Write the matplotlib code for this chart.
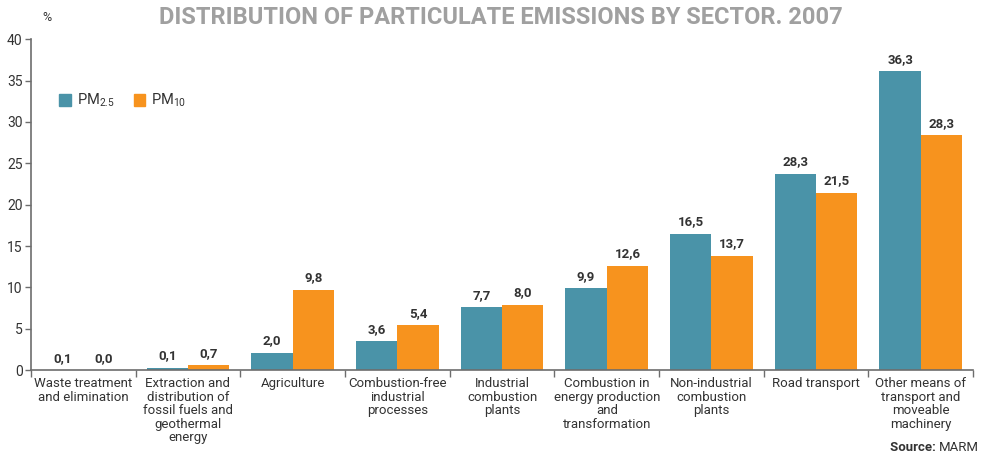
import numpy as np
import matplotlib
matplotlib.use("Agg")
import matplotlib.pyplot as plt
from matplotlib.patches import Patch

plt.rcParams['font.family'] = ['Roboto', 'DejaVu Sans']
plt.rcParams['mathtext.default'] = 'regular'

# data
sectors = [
    "Waste treatment\nand elimination",
    "Extraction and\ndistribution of\nfossil fuels and\ngeothermal\nenergy",
    "Agriculture",
    "Combustion-free\nindustrial\nprocesses",
    "Industrial\ncombustion\nplants",
    "Combustion in\nenergy production\nand\ntransformation",
    "Non-industrial\ncombustion\nplants",
    "Road transport",
    "Other means of\ntransport and\nmoveable\nmachinery",
]
pm25 = [0.0, 0.3, 2.1, 3.5, 7.6, 9.9, 16.5, 23.7, 36.1]
pm10 = [0.0, 0.6, 9.7, 5.4, 7.9, 12.6, 13.8, 21.4, 28.4]
pm25_labels = ["0,1", "0,1", "2,0", "3,6", "7,7", "9,9", "16,5", "28,3", "36,3"]
pm10_labels = ["0,0", "0,7", "9,8", "5,4", "8,0", "12,6", "13,7", "21,5", "28,3"]

teal = "#4A93A8"
orange = "#F7931E"
axis_col = "#6d6d6d"
text_col = "#333333"

fig = plt.figure(figsize=(9.86, 4.61), dpi=100)
ax = fig.add_axes([0.0314, 0.197, 0.9556, 0.718])

x = np.arange(len(sectors))
w = 0.395
b1 = ax.bar(x - w / 2, pm25, width=w, color=teal)
b2 = ax.bar(x + w / 2, pm10, width=w, color=orange)

for bars, labels in [(b1, pm25_labels), (b2, pm10_labels)]:
    for bar, lab in zip(bars, labels):
        ax.annotate(lab, (bar.get_x() + bar.get_width() / 2, bar.get_height()),
                    xytext=(0, 4), textcoords="offset points",
                    ha="center", va="bottom", fontsize=9.5, fontweight="bold",
                    color=text_col)

ax.set_xlim(-0.5, len(sectors) - 0.5)
ax.set_ylim(0, 40)
ax.set_yticks(np.arange(0, 41, 5))
ax.tick_params(axis="y", labelsize=10, colors=axis_col, labelcolor=text_col,
               length=4, width=1, pad=2)

# category boundaries as ticks, names as minor labels
ax.set_xticks(np.arange(-0.5, len(sectors), 1.0))
ax.set_xticklabels([])
ax.tick_params(axis="x", which="major", length=5, width=1, colors=axis_col,
               direction="out")
ax.set_xticks(x, minor=True)
ax.set_xticklabels(sectors, minor=True, fontsize=9.5, color=text_col,
                   linespacing=1.05)
ax.tick_params(axis="x", which="minor", length=0, pad=5)

for s in ["top", "right"]:
    ax.spines[s].set_visible(False)
for s in ["left", "bottom"]:
    ax.spines[s].set_color(axis_col)
    ax.spines[s].set_linewidth(1.2)

handles = [Patch(color=teal, label="PM$_{2.5}$"),
           Patch(color=orange, label="PM$_{10}$")]
ax.legend(handles=handles, ncol=2, frameon=False, loc="upper left",
          bbox_to_anchor=(0.016, 0.88), handlelength=0.8, handleheight=0.8,
          handletextpad=0.4, columnspacing=1.3, fontsize=10.5,
          labelcolor=text_col)

fig.text(0.043, 0.963, "%", fontsize=9, color=text_col, ha="left", va="center")
fig.text(0.508, 0.962, "DISTRIBUTION OF PARTICULATE EMISSIONS BY SECTOR. 2007",
         fontsize=17, fontweight="bold", color="#a0a0a0", ha="center",
         va="center")
src = fig.text(0.993, 0.015, "MARM", fontsize=9.5, color=text_col, ha="right",
               va="bottom")
ax.annotate("Source: ", xy=(0, 0), xycoords=src, ha="right", va="bottom",
            fontsize=9.5, fontweight="bold", color=text_col,
            annotation_clip=False)

fig.savefig("out.png", dpi=100)
